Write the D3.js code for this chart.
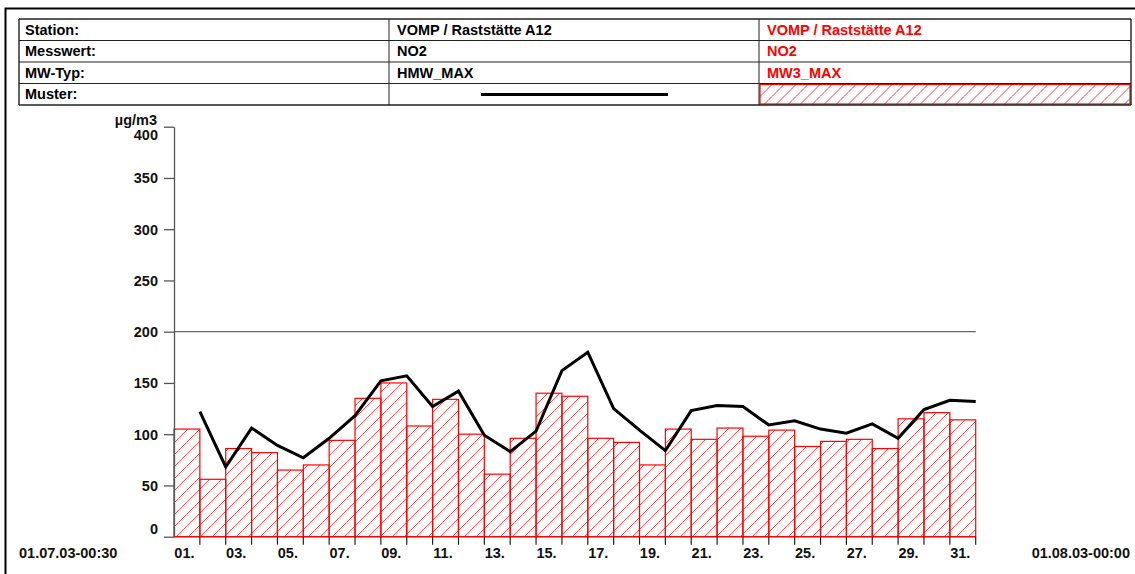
<!DOCTYPE html>
<html>
<head>
<meta charset="utf-8">
<script src="https://cdn.jsdelivr.net/npm/d3@7"></script>
<style>
  html, body { margin: 0; padding: 0; background: #fff; }
  svg { display: block; font-family: "Liberation Sans", Arial, sans-serif; font-weight: bold; }
</style>
</head>
<body>
<svg id="chart" width="1135" height="574"></svg>
<script>
// Daily NO2 values, July 2003, station VOMP / Raststätte A12 (µg/m3)
const days = d3.range(1, 32);
const mw3Max = [105, 56, 86, 82, 65, 70, 94, 135, 150, 108, 134, 100, 61, 96, 140, 137,
                96, 92, 70, 105, 95, 106, 98, 104, 88, 93, 95, 86, 115, 121, 114];
const hmwMax = [122, 68, 106, 89, 77, 96, 118, 152, 157, 127, 142, 99, 83, 103, 162, 180,
                125, 104, 84, 123, 128, 127, 109, 113, 105, 101, 110, 96, 124, 133, 132];
const yTicks = [0, 50, 100, 150, 200, 250, 300, 350, 400];
const limitValue = 200;
const xTickLabels = days.filter(d => d % 2 === 1).map(d => String(d).padStart(2, "0") + ".");
const startLabel = "01.07.03-00:30";
const endLabel = "01.08.03-00:00";
const unitLabel = "µg/m3";
const tableRows = [
  ["Station:", "VOMP / Raststätte A12", "VOMP / Raststätte A12"],
  ["Messwert:", "NO2", "NO2"],
  ["MW-Typ:", "HMW_MAX", "MW3_MAX"],
  ["Muster:", "", ""]
];

const svg = d3.select("#chart");
const RED = "#ff0000";
const FS = 14.5;
const HATCH_STEP = 12;
const defs = svg.append("defs");

// diagonal hatch lines clipped to a set of rectangles
function hatch(parent, id, rects, bbox) {
  const clip = defs.append("clipPath").attr("id", id);
  clip.selectAll("rect").data(rects).join("rect")
    .attr("x", d => d.x).attr("y", d => d.y)
    .attr("width", d => d.w).attr("height", d => d.h);
  const h = bbox.y1 - bbox.y0;
  const offs = d3.range(-h, bbox.x1 - bbox.x0 + HATCH_STEP, HATCH_STEP);
  parent.append("g").attr("clip-path", `url(#${id})`)
    .selectAll("line").data(offs).join("line")
    .attr("x1", c => bbox.x0 + c).attr("y1", bbox.y1)
    .attr("x2", c => bbox.x0 + c + h).attr("y2", bbox.y0)
    .attr("stroke", RED).attr("stroke-width", 1).attr("stroke-opacity", 0.75);
}

// page frame
svg.append("rect")
  .attr("x", 5.5).attr("y", 8.5).attr("width", 1140).attr("height", 580)
  .attr("fill", "none").attr("stroke", "#000").attr("stroke-width", 2);

// header table
const colX = [19, 389, 759, 1131];
const rowY = [19, 40.5, 62, 83.5, 105];
const table = svg.append("g");
tableRows.forEach((row, r) => {
  row.forEach((txt, c) => {
    if (!txt) return;
    table.append("text")
      .attr("x", colX[c] + (c === 0 ? 6 : 8))
      .attr("y", (rowY[r] + rowY[r + 1]) / 2)
      .attr("dy", "0.36em")
      .attr("font-size", FS)
      .attr("fill", c === 2 ? RED : "#000")
      .text(txt);
  });
});
// legend samples
table.append("line")
  .attr("x1", 481).attr("x2", 668)
  .attr("y1", 94.5).attr("y2", 94.5)
  .attr("stroke", "#000").attr("stroke-width", 3);
const legRect = { x: colX[2] + 1, y: rowY[3] + 1, w: colX[3] - colX[2] - 2, h: rowY[4] - rowY[3] - 2 };
hatch(table, "legend-clip", [legRect],
  { x0: legRect.x, y0: legRect.y, x1: legRect.x + legRect.w, y1: legRect.y + legRect.h });
table.append("rect")
  .attr("x", legRect.x).attr("y", legRect.y)
  .attr("width", legRect.w).attr("height", legRect.h)
  .attr("fill", "none").attr("stroke", RED).attr("stroke-width", 1.2);
// grid lines
rowY.forEach((y, i) => {
  table.append("line")
    .attr("x1", colX[0]).attr("x2", colX[3])
    .attr("y1", y).attr("y2", y)
    .attr("stroke", "#222").attr("stroke-width", i === 0 || i === 4 ? 1.4 : 1);
});
colX.forEach((x, i) => {
  table.append("line")
    .attr("x1", x).attr("x2", x)
    .attr("y1", rowY[0]).attr("y2", rowY[4])
    .attr("stroke", "#222").attr("stroke-width", i === 0 || i === 3 ? 1.4 : 1);
});

// scales
const x = d3.scaleLinear().domain([0, 31]).range([174, 975.7]);
const y = d3.scaleLinear().domain([0, 400]).range([536.7, 126.7]);
const bw = x(1) - x(0);

// limit line at 200
svg.append("line")
  .attr("x1", x(0)).attr("x2", x(31))
  .attr("y1", y(limitValue)).attr("y2", y(limitValue))
  .attr("stroke", "#666").attr("stroke-width", 1.3);

// bars (MW3_MAX): hatch, then outlines
const barRects = mw3Max.map((d, i) => ({ x: x(i), y: y(d), w: bw, h: y(0) - y(d) }));
hatch(svg, "bar-clip", barRects, { x0: x(0), y0: y(d3.max(mw3Max)), x1: x(31), y1: y(0) });
svg.append("g").selectAll("rect")
  .data(mw3Max)
  .join("rect")
  .attr("x", (d, i) => x(i))
  .attr("y", d => y(d))
  .attr("width", bw)
  .attr("height", d => y(0) - y(d))
  .attr("fill", "none")
  .attr("stroke", RED)
  .attr("stroke-width", 1.2);

// y axis
const yAxis = svg.append("g")
  .attr("transform", `translate(${x(0)},0)`)
  .call(d3.axisLeft(y).tickValues(yTicks).tickSize(10).tickSizeOuter(0).tickFormat(d3.format("d")));
yAxis.select(".domain").attr("stroke", "#555").attr("stroke-width", 1.3);
yAxis.selectAll(".tick line").attr("stroke", "#555").attr("stroke-width", 1.3);
yAxis.selectAll(".tick text")
  .attr("x", -16)
  .attr("font-size", FS)
  .attr("font-weight", "bold")
  .attr("font-family", "Liberation Sans, Arial, sans-serif")
  .attr("fill", "#111")
  .attr("dy", d => d === 400 ? "0.9em" : d === 0 ? "-0.25em" : "0.34em");
svg.append("text")
  .attr("x", x(0) - 17).attr("y", 119.5).attr("dy", "0.36em")
  .attr("text-anchor", "end").attr("font-size", FS).attr("fill", "#111")
  .text(unitLabel);

// x axis: ticks at day boundaries, labels on odd days
const xAxisG = svg.append("g").attr("transform", `translate(0,${y(0)})`);
xAxisG.append("line")
  .attr("x1", x(0)).attr("x2", x(31))
  .attr("stroke", RED).attr("stroke-width", 1.2);
xAxisG.selectAll("line.tk")
  .data(d3.range(1, 32))
  .join("line")
  .attr("class", "tk")
  .attr("x1", d => x(d)).attr("x2", d => x(d))
  .attr("y1", 0).attr("y2", 8)
  .attr("stroke", "#222").attr("stroke-width", 1.2);
xAxisG.selectAll("text.lb")
  .data(xTickLabels)
  .join("text")
  .attr("class", "lb")
  .attr("x", (d, i) => x(i * 2 + 0.5) - 2.5)
  .attr("y", 16.5).attr("dy", "0.36em")
  .attr("text-anchor", "middle").attr("font-size", FS).attr("fill", "#111")
  .text(d => d);
svg.append("text")
  .attr("x", 19).attr("y", y(0) + 16.5).attr("dy", "0.36em")
  .attr("font-size", FS).attr("fill", "#111").text(startLabel);
svg.append("text")
  .attr("x", 1130).attr("y", y(0) + 16.5).attr("dy", "0.36em")
  .attr("text-anchor", "end").attr("font-size", FS).attr("fill", "#111").text(endLabel);

// HMW_MAX line, each day plotted at its end boundary
const line = d3.line()
  .x((d, i) => x(i + 1))
  .y(d => y(d));
svg.append("path")
  .datum(hmwMax)
  .attr("d", line)
  .attr("fill", "none")
  .attr("stroke", "#000")
  .attr("stroke-width", 3)
  .attr("stroke-linejoin", "miter");
</script>
</body>
</html>
